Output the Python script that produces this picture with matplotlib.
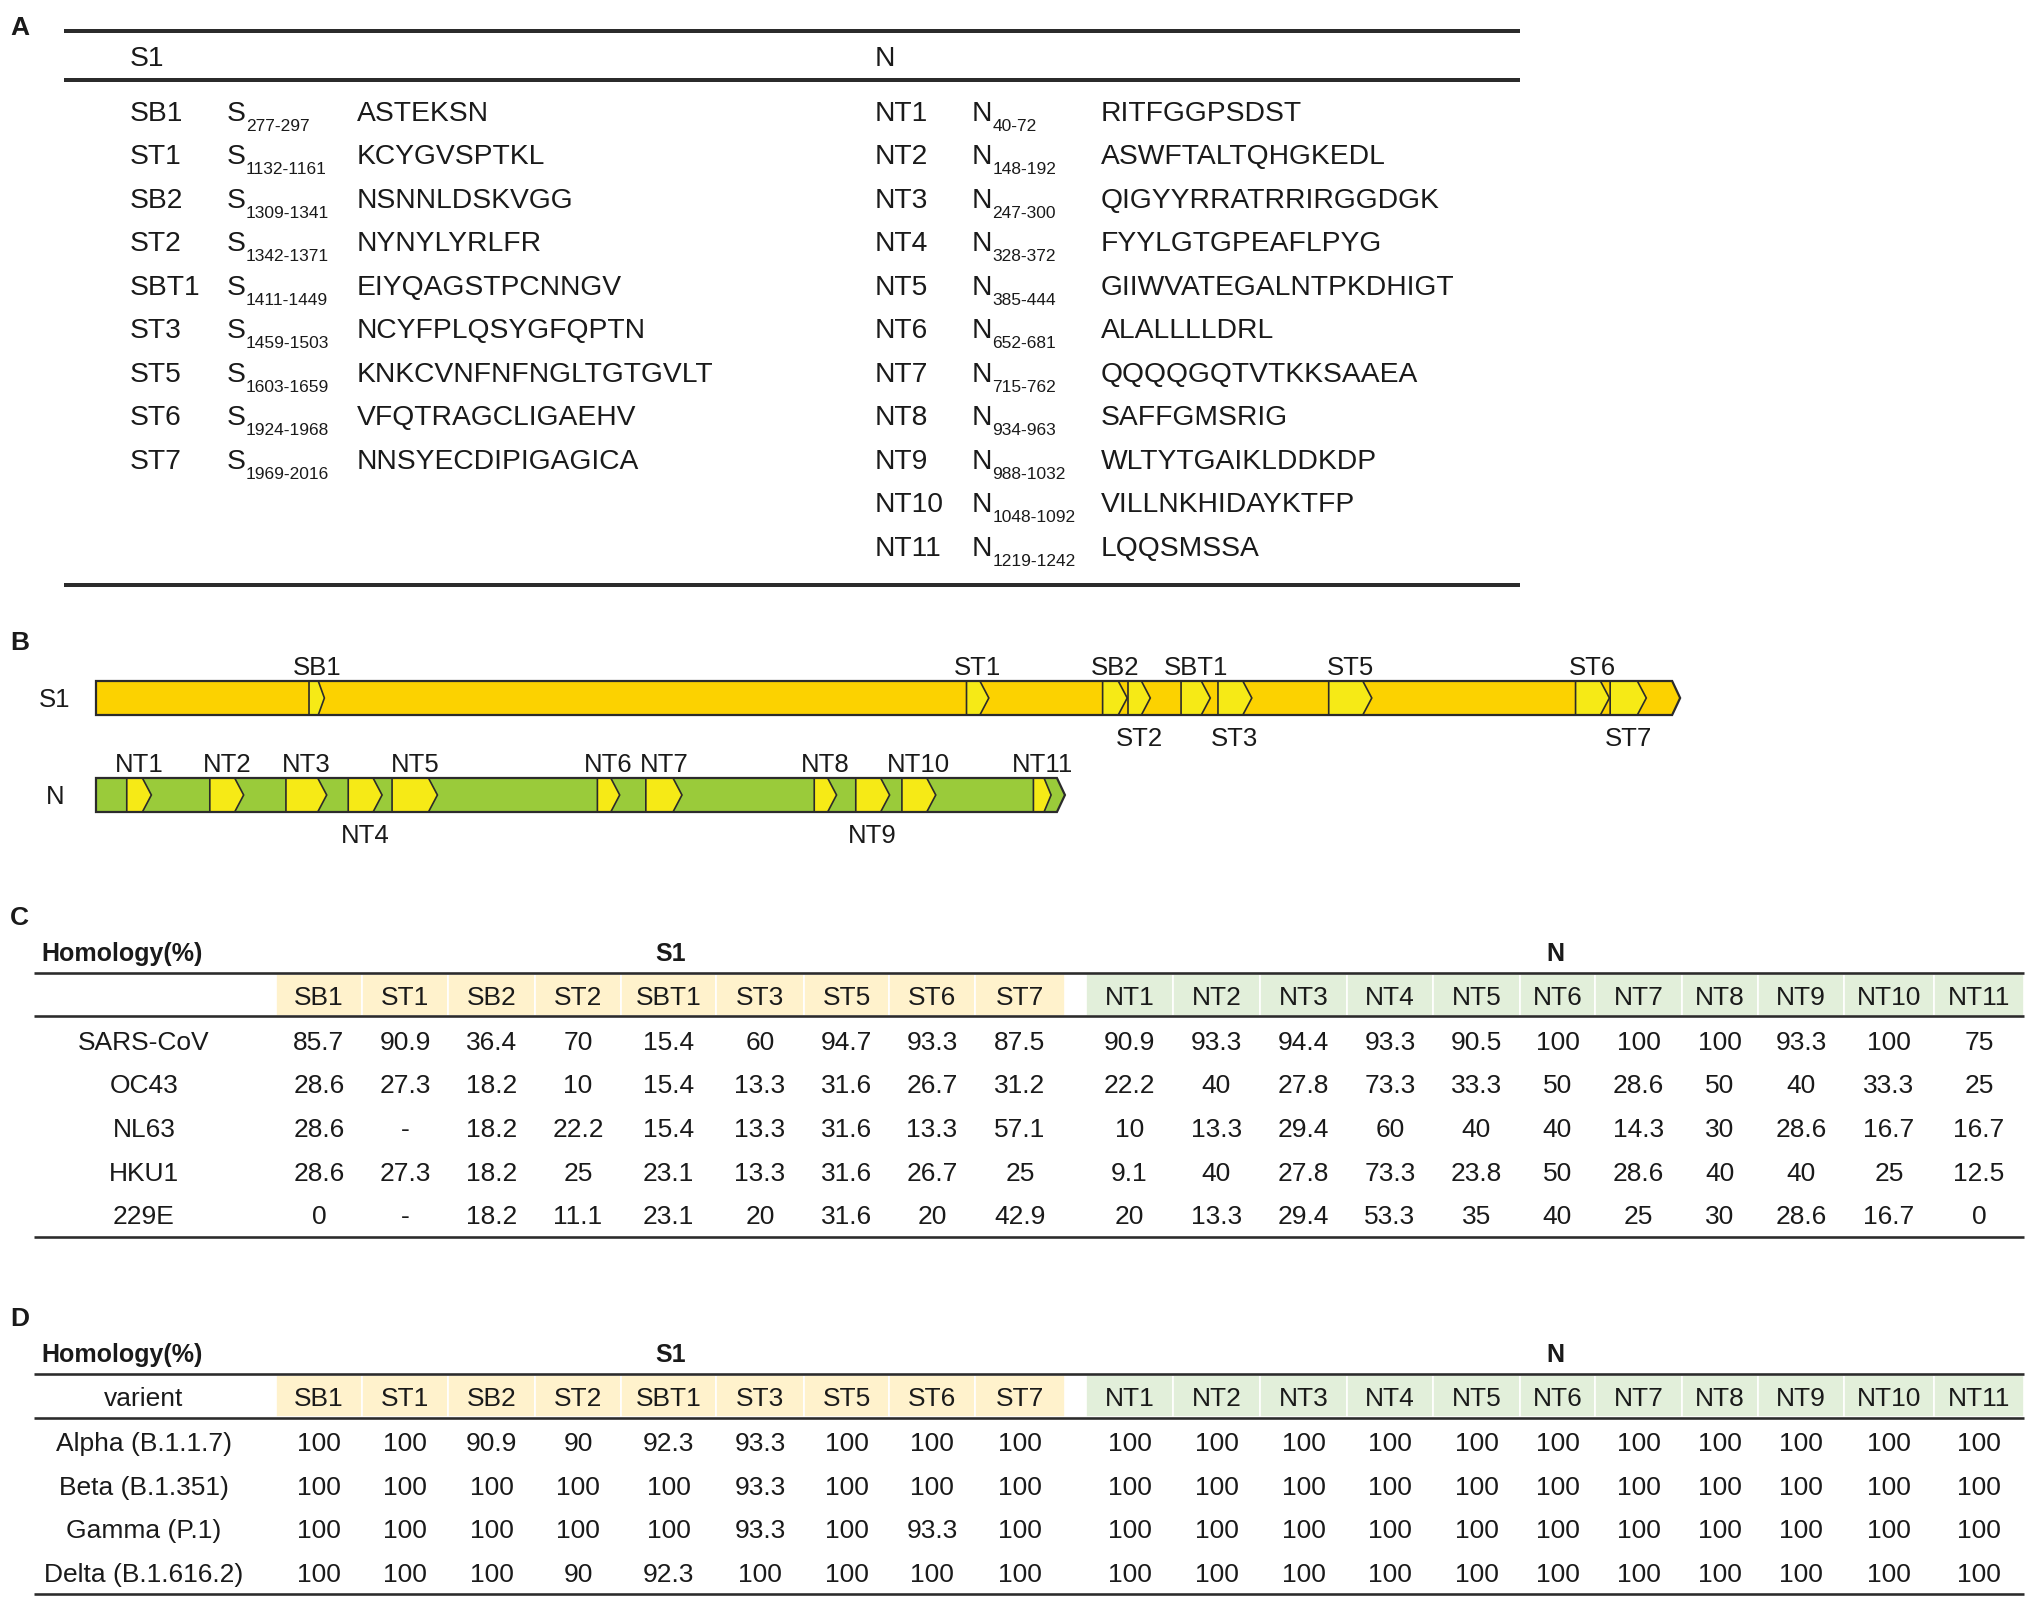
import numpy as np
import matplotlib.pyplot as plt
from matplotlib.patches import Polygon, Rectangle

plt.rcParams['font.family'] = ['Liberation Sans', 'DejaVu Sans']

# === Epitopes (panel A table and panel B map), positions in nt ===
S1_NAMES    = ['SB1', 'ST1', 'SB2', 'ST2', 'SBT1', 'ST3', 'ST5', 'ST6', 'ST7']
S1_START    = [277, 1132, 1309, 1342, 1411, 1459, 1603, 1924, 1969]
S1_END      = [297, 1161, 1341, 1371, 1449, 1503, 1659, 1968, 2016]
S1_PEPTIDES = ['ASTEKSN', 'KCYGVSPTKL', 'NSNNLDSKVGG', 'NYNYLYRLFR', 'EIYQAGSTPCNNGV',
               'NCYFPLQSYGFQPTN', 'KNKCVNFNFNGLTGTGVLT', 'VFQTRAGCLIGAEHV', 'NNSYECDIPIGAGICA']
S1_LABEL_UP = [True, True, True, False, True, False, True, True, False]

N_NAMES    = ['NT1', 'NT2', 'NT3', 'NT4', 'NT5', 'NT6', 'NT7', 'NT8', 'NT9', 'NT10', 'NT11']
N_START    = [40, 148, 247, 328, 385, 652, 715, 934, 988, 1048, 1219]
N_END      = [72, 192, 300, 372, 444, 681, 762, 963, 1032, 1092, 1242]
N_PEPTIDES = ['RITFGGPSDST', 'ASWFTALTQHGKEDL', 'QIGYYRRATRRIRGGDGK', 'FYYLGTGPEAFLPYG',
              'GIIWVATEGALNTPKDHIGT', 'ALALLLLDRL', 'QQQQGQTVTKKSAAEA', 'SAFFGMSRIG',
              'WLTYTGAIKLDDKDP', 'VILLNKHIDAYKTFP', 'LQQSMSSA']
N_LABEL_UP = [True, True, True, False, True, True, True, True, False, True, True]

S1_LENGTH = 2060
N_LENGTH  = 1260

# === Panel C: homology with other coronaviruses (nan = '-') ===
STRAINS = ['SARS-CoV', 'OC43', 'NL63', 'HKU1', '229E']
STRAIN_S1 = [
    [85.7, 90.9, 36.4, 70, 15.4, 60, 94.7, 93.3, 87.5],
    [28.6, 27.3, 18.2, 10, 15.4, 13.3, 31.6, 26.7, 31.2],
    [28.6, np.nan, 18.2, 22.2, 15.4, 13.3, 31.6, 13.3, 57.1],
    [28.6, 27.3, 18.2, 25, 23.1, 13.3, 31.6, 26.7, 25],
    [0, np.nan, 18.2, 11.1, 23.1, 20, 31.6, 20, 42.9],
]
STRAIN_N = [
    [90.9, 93.3, 94.4, 93.3, 90.5, 100, 100, 100, 93.3, 100, 75],
    [22.2, 40, 27.8, 73.3, 33.3, 50, 28.6, 50, 40, 33.3, 25],
    [10, 13.3, 29.4, 60, 40, 40, 14.3, 30, 28.6, 16.7, 16.7],
    [9.1, 40, 27.8, 73.3, 23.8, 50, 28.6, 40, 40, 25, 12.5],
    [20, 13.3, 29.4, 53.3, 35, 40, 25, 30, 28.6, 16.7, 0],
]

# === Panel D: homology with variants ===
VARIANTS = ['Alpha (B.1.1.7)', 'Beta (B.1.351)', 'Gamma (P.1)', 'Delta (B.1.616.2)']
VARIANT_S1 = [
    [100, 100, 90.9, 90, 92.3, 93.3, 100, 100, 100],
    [100, 100, 100, 100, 100, 93.3, 100, 100, 100],
    [100, 100, 100, 100, 100, 93.3, 100, 93.3, 100],
    [100, 100, 100, 90, 92.3, 100, 100, 100, 100],
]
VARIANT_N = [[100] * 11 for _ in VARIANTS]

# === Layout (figure pixels) ===
W, H = 2033, 1600
TXT = '#1a1a1a'
LINE = '#2b2b2b'
S1_BAR_COLOR = '#FCD200'
N_BAR_COLOR = '#9ACB3A'
EPI_COLOR = '#F6EA16'
S1_HEAD_COLOR = '#FFF2CC'
N_HEAD_COLOR = '#E2EFDA'

S1_COL_EDGES = [276, 362, 448, 535, 621, 716, 804, 889, 975, 1065]
N_COL_EDGES = [1086, 1173, 1260, 1347, 1433, 1520, 1595, 1682, 1758, 1844, 1934, 2024]

FS_A = 20.3     # panel A text
FS_SUB = 12.5   # residue range subscripts
FS_B = 18.5     # gene map labels
FS_T = 19       # table cells


def lw(pix):
    return pix * 0.72


def fmt(v):
    return '-' if np.isnan(v) else f'{v:g}'


def draw_panel_a(ax):
    ax.text(10, 35, 'A', fontsize=19, fontweight='bold', color=TXT)
    for y in (31, 80, 585):
        ax.plot([64, 1520], [y, y], color=LINE, lw=lw(4), solid_capstyle='butt')

    ax.text(130, 66, 'S1', fontsize=FS_A, color=TXT)
    ax.text(875, 66, 'N', fontsize=FS_A, color=TXT)

    base0, step = 120.7, 43.5
    sides = [
        (S1_NAMES, S1_START, S1_END, S1_PEPTIDES, 'S', (130, 227, 357)),
        (N_NAMES, N_START, N_END, N_PEPTIDES, 'N', (875, 972, 1101)),
    ]
    for names, starts, ends, peps, prot, (x_name, x_prot, x_pep) in sides:
        for i, (nm, s, e, pep) in enumerate(zip(names, starts, ends, peps)):
            yb = base0 + i * step
            ax.text(x_name, yb, nm, fontsize=FS_A, color=TXT, va='baseline')
            t = ax.text(x_prot, yb, prot, fontsize=FS_A, color=TXT, va='baseline')
            ax.annotate(f'{s}-{e}', xy=(1.0, yb + 10), xycoords=(t, 'data'),
                        fontsize=FS_SUB, color=TXT, va='baseline', ha='left')
            ax.text(x_pep, yb, pep, fontsize=FS_A, color=TXT, va='baseline')


def nt_x(nt):
    return 96 + 0.769 * nt


def arrow_poly(x0, x1, top, height, tip):
    mid = top + height / 2
    return [(x0, top), (x1 - tip, top), (x1, mid), (x1 - tip, top + height), (x0, top + height)]


def draw_gene(ax, name, length, top, bar_color, names, starts, ends, label_up):
    height = 34
    bar = arrow_poly(nt_x(0), nt_x(length), top, height, 8)
    ax.add_patch(Polygon(bar, closed=True, facecolor=bar_color, edgecolor='none'))
    for nm, s, e, up in zip(names, starts, ends, label_up):
        x0, x1 = nt_x(s), nt_x(e)
        tip = min(9, 0.4 * (x1 - x0))
        ax.add_patch(Polygon(arrow_poly(x0, x1, top, height, tip), closed=True,
                             facecolor=EPI_COLOR, edgecolor=LINE, lw=1.2, joinstyle='miter'))
        yb = top - 6 if up else top + height + 31
        ax.text((x0 + x1) / 2, yb, nm, fontsize=FS_B, color=TXT, ha='center', va='baseline')
    ax.add_patch(Polygon(bar, closed=True, facecolor='none', edgecolor=LINE, lw=1.6,
                         joinstyle='miter'))
    ax.text(55, top + height / 2 + 9, name, fontsize=FS_B, color=TXT, ha='center', va='baseline')


def draw_panel_b(ax):
    ax.text(10, 650, 'B', fontsize=19, fontweight='bold', color=TXT)
    draw_gene(ax, 'S1', S1_LENGTH, 681, S1_BAR_COLOR, S1_NAMES, S1_START, S1_END, S1_LABEL_UP)
    draw_gene(ax, 'N', N_LENGTH, 778, N_BAR_COLOR, N_NAMES, N_START, N_END, N_LABEL_UP)


def draw_table(ax, letter, y_top, corner_label, row_labels, s1_vals, n_vals):
    ax.text(10, y_top - 48, letter, fontsize=19, fontweight='bold', color=TXT)
    ax.text(41, y_top - 12, 'Homology(%)', fontsize=18, fontweight='bold', color=TXT,
            va='baseline')
    ax.text((S1_COL_EDGES[0] + S1_COL_EDGES[-1]) / 2, y_top - 12, 'S1', fontsize=18,
            fontweight='bold', color=TXT, ha='center', va='baseline')
    ax.text((N_COL_EDGES[0] + N_COL_EDGES[-1]) / 2, y_top - 12, 'N', fontsize=18,
            fontweight='bold', color=TXT, ha='center', va='baseline')

    # header cells
    head_y = y_top + 32.5
    for edges, names, color in ((S1_COL_EDGES, S1_NAMES, S1_HEAD_COLOR),
                                (N_COL_EDGES, N_NAMES, N_HEAD_COLOR)):
        for a, b, nm in zip(edges[:-1], edges[1:], names):
            ax.add_patch(Rectangle((a, y_top + 1), b - a, 42, facecolor=color,
                                   edgecolor='white', lw=1.2))
            ax.text((a + b) / 2, head_y, nm, fontsize=FS_T, color=TXT, ha='center',
                    va='baseline')
    if corner_label:
        ax.text(144, head_y, corner_label, fontsize=FS_T, color=TXT, ha='center',
                va='baseline')

    # body
    base0, step = y_top + 77, 43.7
    for i, (lab, rs, rn) in enumerate(zip(row_labels, s1_vals, n_vals)):
        yb = base0 + i * step
        ax.text(144, yb, lab, fontsize=FS_T, color=TXT, ha='center', va='baseline')
        for edges, vals in ((S1_COL_EDGES, rs), (N_COL_EDGES, rn)):
            for a, b, v in zip(edges[:-1], edges[1:], vals):
                ax.text((a + b) / 2, yb, fmt(v), fontsize=FS_T, color=TXT, ha='center',
                        va='baseline')
    y_bot = base0 + (len(row_labels) - 1) * step + 12
    for y in (y_top, y_top + 43.5, y_bot):
        ax.plot([34, 2024], [y, y], color=LINE, lw=lw(2.6), solid_capstyle='butt')


def main():
    fig = plt.figure(figsize=(W / 100, H / 100), dpi=100)
    ax = fig.add_axes([0, 0, 1, 1])
    ax.set_xlim(0, W)
    ax.set_ylim(H, 0)
    ax.axis('off')

    draw_panel_a(ax)
    draw_panel_b(ax)
    draw_table(ax, 'C', 972.7, '', STRAINS, STRAIN_S1, STRAIN_N)
    draw_table(ax, 'D', 1374, 'varient', VARIANTS, VARIANT_S1, VARIANT_N)

    fig.savefig('out.png', dpi=100, facecolor='white')


if __name__ == '__main__':
    main()
